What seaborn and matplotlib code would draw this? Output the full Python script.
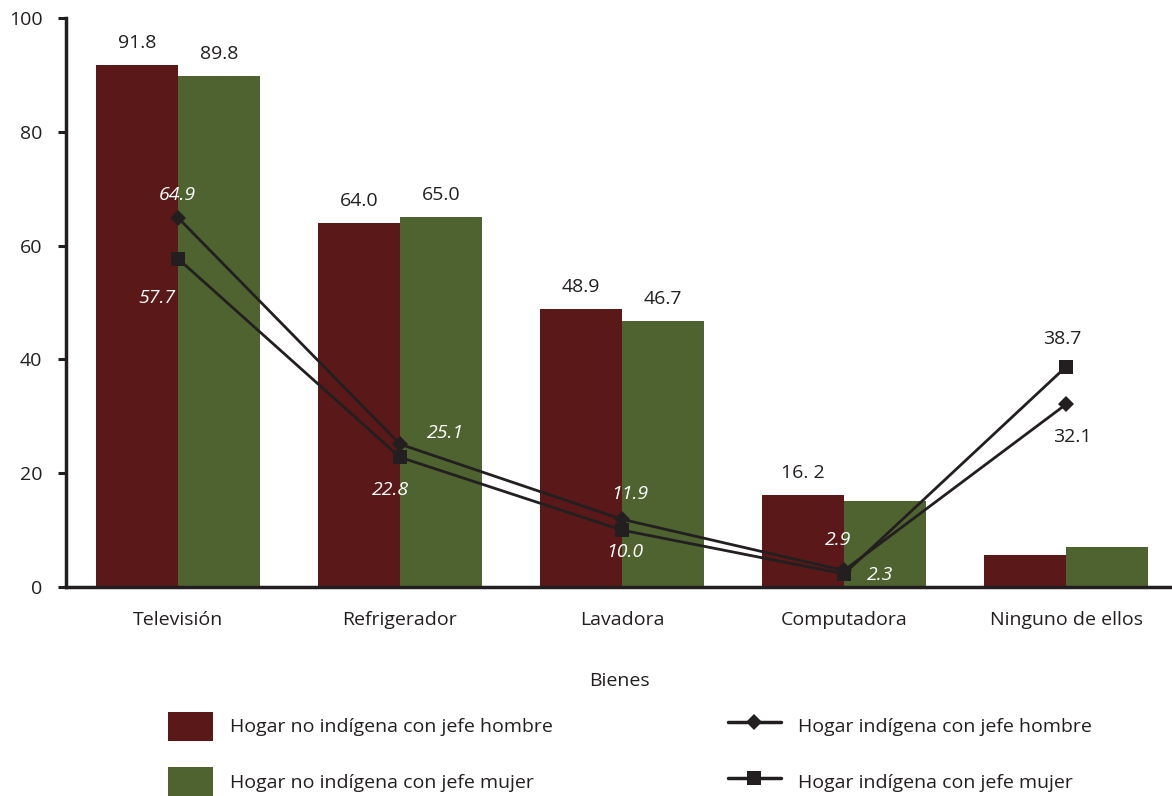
import numpy as np
import pandas as pd
import matplotlib
matplotlib.use("Agg")
import matplotlib.pyplot as plt
from matplotlib.patches import Patch
from matplotlib.lines import Line2D
import seaborn as sns

categories = ["Televisión", "Refrigerador", "Lavadora", "Computadora", "Ninguno de ellos"]
no_ind_hombre = [91.8, 64.0, 48.9, 16.2, 5.6]
no_ind_mujer = [89.8, 65.0, 46.7, 15.1, 7.0]
ind_hombre = [64.9, 25.1, 11.9, 2.9, 32.1]
ind_mujer = [57.7, 22.8, 10.0, 2.3, 38.7]
bar_labels_hombre = ["91.8", "64.0", "48.9", "16. 2", None]
bar_labels_mujer = ["89.8", "65.0", "46.7", None, None]
line_labels_hombre = ["64.9", "25.1", "11.9", "2.9", "32.1"]
line_labels_mujer = ["57.7", "22.8", "10.0", "2.3", "38.7"]
series_names = ["Hogar no indígena con jefe hombre", "Hogar no indígena con jefe mujer",
                "Hogar indígena con jefe hombre", "Hogar indígena con jefe mujer"]
yticks = [0, 20, 40, 60, 80, 100]
xlabel = "Bienes"

RED = "#5A1818"
GREEN = "#4F6330"
DARK = "#231F20"

sns.set_theme(style="white")
plt.rcParams["font.family"] = ["Open Sans", "DejaVu Sans"]
plt.rcParams["text.color"] = DARK

fig = plt.figure(figsize=(11.72, 7.96), dpi=100)
ax = fig.add_axes([66 / 1172, 1 - 587 / 796, 1 - 66 / 1172, (587 - 18) / 796])

df = pd.DataFrame({
    "Bienes": categories * 2,
    "valor": no_ind_hombre + no_ind_mujer,
    "serie": [series_names[0]] * 5 + [series_names[1]] * 5,
})
sns.barplot(data=df, x="Bienes", y="valor", hue="serie", order=categories,
            hue_order=series_names[:2], palette=[RED, GREEN], width=0.74, gap=0,
            edgecolor="none", linewidth=0, saturation=1, ax=ax, legend=False)

xpos = np.arange(len(categories))
sns.lineplot(x=xpos, y=ind_hombre, color=DARK, marker="D", markersize=8.5,
             markeredgewidth=0, linewidth=2.0, ax=ax, legend=False)
sns.lineplot(x=xpos, y=ind_mujer, color=DARK, marker="s", markersize=10.5,
             markeredgewidth=0, linewidth=2.0, ax=ax, legend=False)

# Bar labels
fs = 14
containers = ax.containers
for cont, labs in zip(containers, [bar_labels_hombre, bar_labels_mujer]):
    for rect, lab in zip(cont.patches, labs):
        if lab is None:
            continue
        ax.annotate(lab, (rect.get_x() + rect.get_width() / 2, rect.get_height()),
                    xytext=(0, 13), textcoords="offset pixels",
                    ha="center", va="bottom", fontsize=fs)

# Line labels (pixel offsets)
off_h = [(-1, 23), (45, 11), (8, 25), (-6, 30), (6, -33)]
off_m = [(-21, -39), (-10, -33), (3, -22), (36, -1), (-4, 28)]
col_h = ["white", "white", "white", "white", DARK]
col_m = ["white", "white", "white", "white", DARK]
sty_h = ["italic"] * 4 + ["normal"]
for i in range(5):
    ax.annotate(line_labels_hombre[i], (xpos[i], ind_hombre[i]), xytext=off_h[i],
                textcoords="offset pixels", ha="center", va="center",
                fontsize=fs, color=col_h[i], fontstyle=sty_h[i])
    ax.annotate(line_labels_mujer[i], (xpos[i], ind_mujer[i]), xytext=off_m[i],
                textcoords="offset pixels", ha="center", va="center",
                fontsize=fs, color=col_m[i], fontstyle=sty_h[i])

ax.set_ylim(0, 100)
ax.set_xlim(-112 / 222, (1172 - 178) / 222)
ax.set_yticks(yticks)
ax.set_yticklabels([str(t) for t in yticks], fontsize=fs)
ax.tick_params(axis="y", left=True, length=6, width=2.2, color=DARK, pad=11, labelcolor=DARK)
ax.tick_params(axis="x", bottom=False, labelsize=fs, pad=11, labelcolor=DARK)
ax.set_xlabel(xlabel, fontsize=fs, labelpad=31, color=DARK)
ax.set_ylabel("")
for s in ["top", "right"]:
    ax.spines[s].set_visible(False)
for s in ["left", "bottom"]:
    ax.spines[s].set_color(DARK)
    ax.spines[s].set_linewidth(2.5)

# Legends
h1 = [Patch(facecolor=RED, edgecolor="none"), Patch(facecolor=GREEN, edgecolor="none")]
h2 = [Line2D([], [], color=DARK, marker="D", markersize=8.5, linewidth=2.5, markeredgewidth=0),
      Line2D([], [], color=DARK, marker="s", markersize=10.5, linewidth=2.5, markeredgewidth=0)]
leg1 = fig.legend(h1, series_names[:2], loc="upper left", bbox_to_anchor=(150 / 1172, 1 - 694 / 796),
                  frameon=False, fontsize=fs, handlelength=2.35, handleheight=1.95,
                  labelspacing=1.35, handletextpad=0.85)
leg2 = fig.legend(h2, series_names[2:], loc="upper left", bbox_to_anchor=(710 / 1172, 1 - 694 / 796),
                  frameon=False, fontsize=fs, handlelength=2.75, handleheight=1.95,
                  labelspacing=1.35, handletextpad=0.85)

fig.savefig("out.png", dpi=100)
